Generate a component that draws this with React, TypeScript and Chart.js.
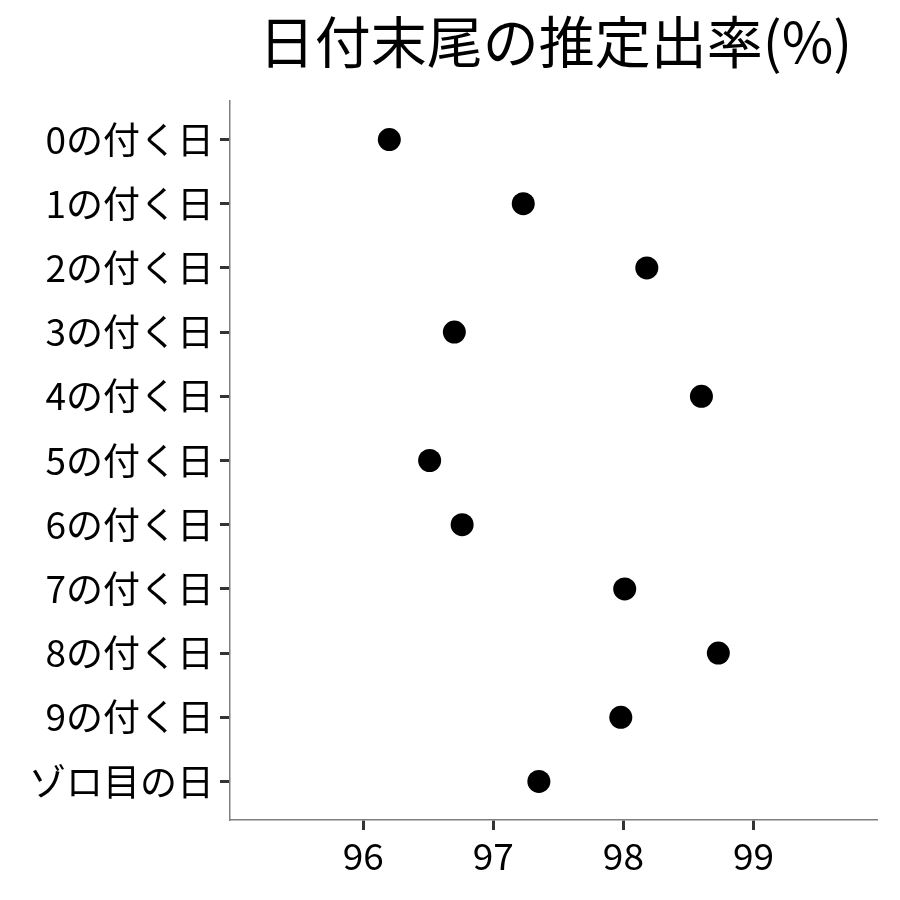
import React, { useEffect, useRef } from "react";
import { Chart, registerables } from "chart.js";

Chart.register(...registerables);

const TITLE = "日付末尾の推定出率(%)";
const CATEGORIES = [
  "0の付く日",
  "1の付く日",
  "2の付く日",
  "3の付く日",
  "4の付く日",
  "5の付く日",
  "6の付く日",
  "7の付く日",
  "8の付く日",
  "9の付く日",
  "ゾロ目の日",
];
const RATES = [96.2, 97.23, 98.18, 96.7, 98.6, 96.51, 96.76, 98.01, 98.73, 97.98, 97.35];
const X_TICKS = [96, 97, 98, 99];
const X_MIN = 94.975;
const X_MAX = 99.95;

const FONT = "'Noto Sans CJK JP', 'Noto Sans', sans-serif";

export default function App() {
  const ref = useRef<HTMLCanvasElement | null>(null);

  useEffect(() => {
    if (!ref.current) return;
    const titlePlugin = {
      id: "centerTitle",
      afterDraw(chart: any) {
        const { ctx, chartArea } = chart;
        ctx.save();
        ctx.font = `56px ${FONT}`;
        ctx.fillStyle = "#000";
        ctx.textAlign = "center";
        ctx.textBaseline = "middle";
        ctx.fillText(TITLE, (chartArea.left + chartArea.right) / 2 + 2, 42);
        ctx.restore();
      },
    };
    const chart = new Chart(ref.current, {
      type: "scatter",
      data: {
        datasets: [
          {
            data: RATES.map((v, i) => ({ x: v, y: i })),
            backgroundColor: "#000",
            borderColor: "#000",
            pointRadius: 11.5,
            pointHoverRadius: 11.5,
            borderWidth: 0,
          },
        ],
      },
      options: {
        animation: false,
        responsive: true,
        maintainAspectRatio: false,
        layout: { padding: { top: 101, right: 23, bottom: 0, left: 0 } },
        plugins: {
          legend: { display: false },
          title: { display: false },
          tooltip: { enabled: false },
        },
        scales: {
          x: {
            type: "linear",
            min: X_MIN,
            max: X_MAX,
            afterBuildTicks: (scale: any) => {
              scale.ticks = X_TICKS.map((v) => ({ value: v }));
            },
            afterFit: (scale: any) => {
              scale.height = 80;
            },
            grid: {
              display: true,
              drawOnChartArea: false,
              drawTicks: true,
              tickLength: 10,
              tickColor: "#333333",
              tickWidth: 3,
            },
            border: { display: true, color: "#7f7f7f", width: 1.5 },
            ticks: {
              color: "#000",
              padding: 4,
              font: { family: FONT, size: 37 },
              callback: (v: any) => String(v),
            },
          },
          y: {
            type: "linear",
            min: -0.6,
            max: CATEGORIES.length - 1 + 0.6,
            reverse: true,
            afterBuildTicks: (scale: any) => {
              scale.ticks = CATEGORIES.map((_, i) => ({ value: i }));
            },
            afterFit: (scale: any) => {
              scale.width = 230;
            },
            grid: {
              display: true,
              drawOnChartArea: false,
              drawTicks: true,
              tickLength: 10,
              tickColor: "#333333",
              tickWidth: 3,
            },
            border: { display: true, color: "#7f7f7f", width: 1.5 },
            ticks: {
              color: "#000",
              padding: 6,
              font: { family: FONT, size: 37 },
              callback: (v: any) => CATEGORIES[Math.round(Number(v))] ?? "",
            },
          },
        },
      },
      plugins: [titlePlugin],
    } as any);
    return () => chart.destroy();
  }, []);

  return (
    <div style={{ position: "fixed", left: 0, top: 0, width: 900, height: 900, background: "#fff" }}>
      <canvas ref={ref} />
    </div>
  );
}
